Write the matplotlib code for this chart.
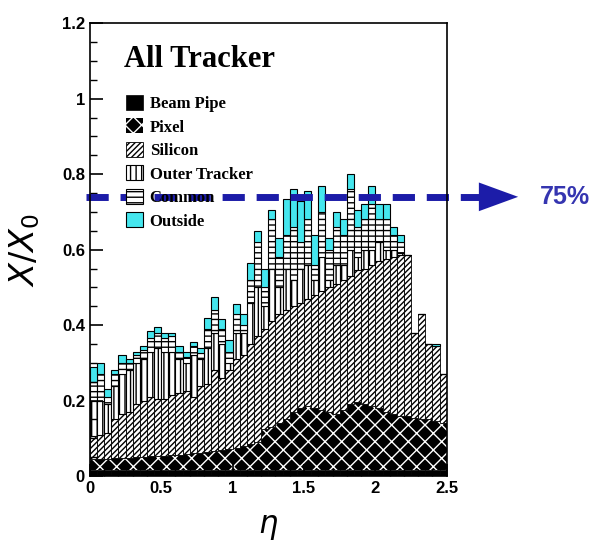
import numpy as np
import matplotlib
matplotlib.use("Agg")
import matplotlib.pyplot as plt
from matplotlib.patches import Polygon

# eta bins (0.05 wide) and cumulative material levels
eta_edges = np.arange(0, 2.5, 0.05)

top_beam = np.full(50, 0.015)
top_pixel = np.array([0.045, 0.045, 0.046, 0.047, 0.048, 0.048, 0.05, 0.05, 0.052, 0.052,
                      0.054, 0.055, 0.056, 0.058, 0.06, 0.062, 0.064, 0.066, 0.07, 0.072,
                      0.075, 0.08, 0.085, 0.09, 0.125, 0.13, 0.14, 0.15, 0.17, 0.18,
                      0.185, 0.18, 0.175, 0.17, 0.165, 0.175, 0.19, 0.195, 0.19, 0.185,
                      0.18, 0.17, 0.165, 0.16, 0.16, 0.155, 0.15, 0.15, 0.145, 0.14])
top_silicon = np.array([0.105, 0.11, 0.115, 0.15, 0.165, 0.17, 0.19, 0.2, 0.21, 0.205,
                        0.205, 0.215, 0.22, 0.225, 0.21, 0.24, 0.245, 0.28, 0.26, 0.28,
                        0.31, 0.32, 0.35, 0.37, 0.39, 0.41, 0.43, 0.44, 0.45, 0.46,
                        0.47, 0.48, 0.49, 0.5, 0.51, 0.52, 0.53, 0.545, 0.55, 0.56,
                        0.57, 0.575, 0.58, 0.585, 0.585, 0.38, 0.43, 0.35, 0.345, 0.27])
top_outer = np.array([0.2, 0.2, 0.19, 0.24, 0.27, 0.28, 0.3, 0.31, 0.33, 0.34,
                      0.33, 0.33, 0.31, 0.3, 0.32, 0.31, 0.34, 0.38, 0.35, 0.3,
                      0.38, 0.38, 0.46, 0.5, 0.45, 0.55, 0.5, 0.55, 0.52, 0.55,
                      0.56, 0.52, 0.58, 0.52, 0.56, 0.56, 0.6, 0.58, 0.6, 0.6,
                      0.62, 0.6, 0.6, 0.59, 0.585, 0.38, 0.43, 0.35, 0.345, 0.27])
top_common = np.array([0.25, 0.27, 0.21, 0.27, 0.3, 0.3, 0.32, 0.335, 0.365, 0.38,
                       0.365, 0.37, 0.33, 0.315, 0.345, 0.325, 0.39, 0.44, 0.39, 0.33,
                       0.43, 0.4, 0.52, 0.62, 0.5, 0.68, 0.58, 0.64, 0.66, 0.62,
                       0.68, 0.56, 0.7, 0.6, 0.66, 0.64, 0.76, 0.66, 0.68, 0.72,
                       0.68, 0.68, 0.64, 0.62, 0.585, 0.38, 0.43, 0.35, 0.345, 0.27])
top_outside = np.array([0.29, 0.3, 0.23, 0.28, 0.32, 0.31, 0.33, 0.345, 0.385, 0.395,
                        0.38, 0.38, 0.345, 0.33, 0.355, 0.34, 0.42, 0.475, 0.415, 0.36,
                        0.455, 0.43, 0.565, 0.65, 0.55, 0.705, 0.63, 0.735, 0.76, 0.73,
                        0.755, 0.64, 0.77, 0.63, 0.70, 0.68, 0.80, 0.705, 0.72, 0.77,
                        0.72, 0.72, 0.66, 0.64, 0.585, 0.38, 0.43, 0.35, 0.35, 0.27])

labels = ["Beam Pipe", "Pixel", "Silicon", "Outer Tracker", "Common", "Outside"]
level_75 = 0.74

fig = plt.figure(figsize=(6.07, 5.41), dpi=100)
ax = fig.add_axes([0.148, 0.120, 0.588, 0.837])

w = 0.05
h_beam = ax.bar(eta_edges, top_beam, width=w, align="edge",
                color="black", edgecolor="black", lw=0.5)
# pixel: white pattern on black
h_pix = ax.bar(eta_edges, top_pixel - top_beam, bottom=top_beam, width=w, align="edge",
               facecolor="black", edgecolor="white", hatch="xx", lw=0)
h_si = ax.bar(eta_edges, top_silicon - top_pixel, bottom=top_pixel, width=w, align="edge",
              facecolor="white", edgecolor="black", hatch="//////", lw=0.6)
h_out = ax.bar(eta_edges, top_outer - top_silicon, bottom=top_silicon, width=w, align="edge",
               facecolor="white", edgecolor="black", hatch="|||", lw=0.8)
h_com = ax.bar(eta_edges, top_common - top_outer, bottom=top_outer, width=w, align="edge",
               facecolor="white", edgecolor="black", hatch="---", lw=0.8)
h_ext = ax.bar(eta_edges, top_outside - top_common, bottom=top_common, width=w, align="edge",
               facecolor="#45e6ee", edgecolor="black", lw=0.8)

ax.set_xlim(0, 2.5)
ax.set_ylim(0, 1.2)
ax.set_xticks([0, 0.5, 1, 1.5, 2, 2.5])
ax.set_xticklabels(["0", "0.5", "1", "1.5", "2", "2.5"])
ax.set_yticks([0, 0.2, 0.4, 0.6, 0.8, 1, 1.2])
ax.set_yticklabels(["0", "0.2", "0.4", "0.6", "0.8", "1", "1.2"])
ax.set_yticks(np.arange(0, 1.201, 0.05), minor=True)
ax.set_xticks(np.arange(0, 2.501, 0.1), minor=True)
ax.tick_params(which="both", direction="in", top=False, right=False)
ax.tick_params(which="major", length=9, width=1.2, labelsize=12)
ax.tick_params(which="minor", length=5, width=1)
for t in ax.get_xticklabels() + ax.get_yticklabels():
    t.set_fontweight("bold")
    t.set_family("Liberation Sans")
for s in ax.spines.values():
    s.set_linewidth(1.2)

ax.set_xlabel(r"$\eta$", fontsize=22, labelpad=12)
ax.set_ylabel(r"$X/X_0$", fontsize=24, labelpad=14)

ax.text(0.095, 0.92, "All Tracker", transform=ax.transAxes, fontsize=22,
        fontweight="bold", family="Liberation Serif", va="center")

leg = ax.legend([h_beam, h_pix, h_si, h_out, h_com, h_ext], labels,
                loc="upper left", bbox_to_anchor=(0.06, 0.875), frameon=False,
                prop={"family": "Liberation Serif", "weight": "bold", "size": 12},
                handlelength=1.0, handleheight=1.0, handletextpad=0.4,
                labelspacing=0.38)

# dashed 75% marker arrow running out of the axes
trans = ax.get_yaxis_transform()
ax.plot([-0.012, 1.09], [level_75, level_75], transform=trans, clip_on=False,
        color="#1c1ca8", lw=5, dashes=(3.2, 1.7))
head = Polygon([(1.09, level_75 - 0.038), (1.09, level_75 + 0.038), (1.2, level_75)],
               closed=True, transform=trans, clip_on=False, color="#1c1ca8", lw=0)
ax.add_patch(head)
ax.text(1.26, level_75, "75%", transform=trans, color="#3535b0", fontsize=18,
        fontweight="bold", va="center", ha="left", family="Liberation Sans")

fig.savefig("out.png", dpi=100)
